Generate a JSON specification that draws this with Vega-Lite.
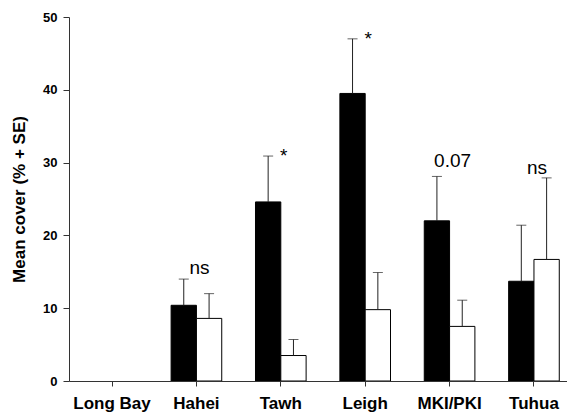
{
  "$schema": "https://vega.github.io/schema/vega-lite/v6.json",
  "description": "Mean cover by site, two groups, with upper SE bars and significance labels",
  "width": 498,
  "height": 364,
  "autosize": "none",
  "padding": {"left": 69, "top": 17, "right": 0, "bottom": 38},
  "data": {
    "values": [
      {"site": "Long Bay", "group": "reserve", "mean": 0, "upper": null},
      {"site": "Long Bay", "group": "outside", "mean": 0, "upper": null},
      {"site": "Hahei", "group": "reserve", "mean": 10.4, "upper": 14.0},
      {"site": "Hahei", "group": "outside", "mean": 8.6, "upper": 12.0},
      {"site": "Tawh", "group": "reserve", "mean": 24.6, "upper": 30.9},
      {"site": "Tawh", "group": "outside", "mean": 3.5, "upper": 5.7},
      {"site": "Leigh", "group": "reserve", "mean": 39.5, "upper": 47.0},
      {"site": "Leigh", "group": "outside", "mean": 9.8, "upper": 14.9},
      {"site": "MKI/PKI", "group": "reserve", "mean": 22.0, "upper": 28.1},
      {"site": "MKI/PKI", "group": "outside", "mean": 7.5, "upper": 11.1},
      {"site": "Tuhua", "group": "reserve", "mean": 13.7, "upper": 21.4},
      {"site": "Tuhua", "group": "outside", "mean": 16.7, "upper": 27.9}
    ]
  },
  "encoding": {
    "x": {
      "field": "site",
      "type": "nominal",
      "scale": {
        "domain": ["Long Bay", "Hahei", "Tawh", "Leigh", "MKI/PKI", "Tuhua"],
        "range": [0, 508],
        "paddingInner": 0.4,
        "paddingOuter": 0.21
      },
      "axis": {
        "title": null,
        "labelAngle": 0,
        "labelFont": "Liberation Sans",
        "labelFontSize": 17,
        "labelFontWeight": "bold",
        "labelColor": "#000",
        "labelPadding": 9,
        "tickSize": 5,
        "domainColor": "#333",
        "tickColor": "#333",
        "zindex": 1
      }
    }
  },
  "layer": [
    {
      "transform": [{"filter": "datum.mean > 0"}],
      "mark": {"type": "bar", "stroke": "#000", "strokeWidth": 1},
      "encoding": {
        "xOffset": {"field": "group", "type": "nominal", "scale": {"domain": ["reserve", "outside"]}},
        "y": {
          "field": "mean",
          "type": "quantitative",
          "scale": {"domain": [0, 50], "nice": false},
          "axis": {
            "title": "Mean cover (% + SE)",
            "titleFont": "Liberation Sans",
            "titleFontSize": 17,
            "titleFontWeight": "bold",
            "titleColor": "#000",
            "titlePadding": 14,
            "values": [0, 10, 20, 30, 40, 50],
            "grid": false,
            "labelFont": "Liberation Sans",
            "labelFontSize": 13,
            "labelFontWeight": "bold",
            "labelColor": "#000",
            "labelPadding": 6,
            "tickSize": 6,
            "domainColor": "#333",
            "tickColor": "#333"
          }
        },
        "fill": {
          "field": "group",
          "type": "nominal",
          "scale": {"domain": ["reserve", "outside"], "range": ["#000000", "#ffffff"]},
          "legend": null
        }
      }
    },
    {
      "transform": [{"filter": "datum.upper != null"}],
      "mark": {"type": "rule", "color": "#222", "strokeWidth": 1},
      "encoding": {
        "xOffset": {"field": "group", "type": "nominal", "scale": {"domain": ["reserve", "outside"]}},
        "y": {"field": "mean", "type": "quantitative"},
        "y2": {"field": "upper"}
      }
    },
    {
      "transform": [{"filter": "datum.upper != null"}],
      "mark": {"type": "tick", "color": "#222", "size": 10, "thickness": 1, "orient": "horizontal"},
      "encoding": {
        "xOffset": {"field": "group", "type": "nominal", "scale": {"domain": ["reserve", "outside"]}},
        "y": {"field": "upper", "type": "quantitative"}
      }
    },
    {
      "data": {
        "values": [
          {"site": "Hahei", "label": "ns", "pos": 14.7},
          {"site": "Tawh", "label": "*", "pos": 30.1},
          {"site": "Leigh", "label": "*", "pos": 46.2},
          {"site": "MKI/PKI", "label": "0.07", "pos": 29.4},
          {"site": "Tuhua", "label": "ns", "pos": 28.4}
        ]
      },
      "mark": {
        "type": "text",
        "font": "Liberation Sans",
        "fontSize": 19,
        "color": "#000",
        "baseline": "alphabetic",
        "align": "center",
        "dx": 3
      },
      "encoding": {
        "y": {"field": "pos", "type": "quantitative"},
        "text": {"field": "label"}
      }
    }
  ],
  "config": {
    "view": {"stroke": null},
    "background": "#ffffff"
  }
}
